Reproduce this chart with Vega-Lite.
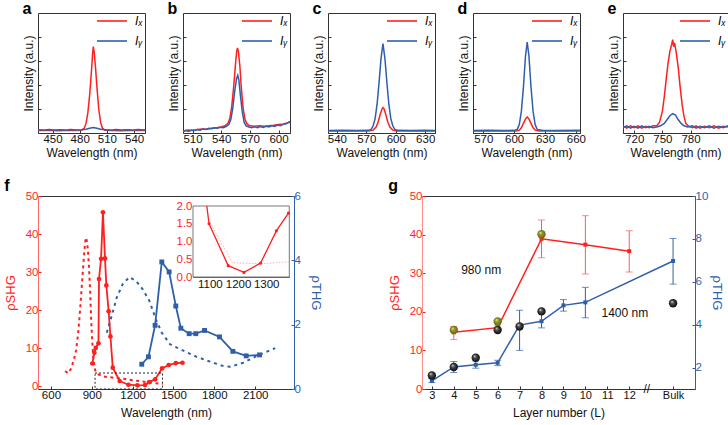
{
"$schema":"https://vega.github.io/schema/vega-lite/v6.json",
"padding":{"left":3,"top":0,"right":2,"bottom":2},
"config":{
 "font":"Liberation Sans",
 "view":{"stroke":"#333","strokeWidth":1},
 "axis":{"grid":false,"labelFontSize":11.5,"titleFontSize":12,"titleFontWeight":"normal","labelColor":"#111","titleColor":"#111","tickColor":"#333","domainColor":"#333","tickSize":-3,"labelPadding":3,"titlePadding":3,"labelOverlap":false},
 "legend":{"orient":"top-right","title":null,"symbolType":"M-3,0H3","symbolSize":100,"symbolStrokeWidth":1.6,"labelFontSize":12,"labelFontStyle":"italic","offset":2,"padding":0,"rowPadding":8,"labelOffset":17},
 "title":{"anchor":"start","frame":"bounds","fontSize":16,"fontWeight":"bold","offset":-4,"color":"#000"}
},
"datasets":{
 "spec":[
  {"p":"a","pol":"x","wl":434,"I":0.1},{"p":"a","pol":"x","wl":445,"I":0.11},{"p":"a","pol":"x","wl":455,"I":0.09},{"p":"a","pol":"x","wl":465,"I":0.1},{"p":"a","pol":"x","wl":475,"I":0.1},{"p":"a","pol":"x","wl":482,"I":0.11},{"p":"a","pol":"x","wl":485,"I":0.2},{"p":"a","pol":"x","wl":487,"I":0.4},{"p":"a","pol":"x","wl":489,"I":0.85},{"p":"a","pol":"x","wl":491,"I":1.6},{"p":"a","pol":"x","wl":493,"I":2.6},{"p":"a","pol":"x","wl":494.2,"I":3.3},{"p":"a","pol":"x","wl":495,"I":3.6},{"p":"a","pol":"x","wl":496,"I":3.35},{"p":"a","pol":"x","wl":497.5,"I":2.7},{"p":"a","pol":"x","wl":499,"I":1.9},{"p":"a","pol":"x","wl":501,"I":1.0},{"p":"a","pol":"x","wl":503,"I":0.45},{"p":"a","pol":"x","wl":505,"I":0.2},{"p":"a","pol":"x","wl":508,"I":0.11},{"p":"a","pol":"x","wl":515,"I":0.1},{"p":"a","pol":"x","wl":525,"I":0.09},{"p":"a","pol":"x","wl":535,"I":0.1},{"p":"a","pol":"x","wl":545,"I":0.1},{"p":"a","pol":"x","wl":552,"I":0.1},
  {"p":"a","pol":"y","wl":434,"I":0.14},{"p":"a","pol":"y","wl":440,"I":0.12},{"p":"a","pol":"y","wl":446,"I":0.15},{"p":"a","pol":"y","wl":452,"I":0.13},{"p":"a","pol":"y","wl":458,"I":0.14},{"p":"a","pol":"y","wl":464,"I":0.12},{"p":"a","pol":"y","wl":470,"I":0.15},{"p":"a","pol":"y","wl":476,"I":0.13},{"p":"a","pol":"y","wl":482,"I":0.14},{"p":"a","pol":"y","wl":487,"I":0.16},{"p":"a","pol":"y","wl":491,"I":0.2},{"p":"a","pol":"y","wl":495,"I":0.23},{"p":"a","pol":"y","wl":499,"I":0.2},{"p":"a","pol":"y","wl":503,"I":0.16},{"p":"a","pol":"y","wl":508,"I":0.14},{"p":"a","pol":"y","wl":514,"I":0.12},{"p":"a","pol":"y","wl":520,"I":0.15},{"p":"a","pol":"y","wl":526,"I":0.13},{"p":"a","pol":"y","wl":532,"I":0.14},{"p":"a","pol":"y","wl":538,"I":0.12},{"p":"a","pol":"y","wl":544,"I":0.15},{"p":"a","pol":"y","wl":552,"I":0.13},
  {"p":"b","pol":"x","wl":500,"I":0.08},{"p":"b","pol":"x","wl":505,"I":0.12},{"p":"b","pol":"x","wl":510,"I":0.1},{"p":"b","pol":"x","wl":515,"I":0.15},{"p":"b","pol":"x","wl":520,"I":0.17},{"p":"b","pol":"x","wl":525,"I":0.16},{"p":"b","pol":"x","wl":530,"I":0.2},{"p":"b","pol":"x","wl":535,"I":0.22},{"p":"b","pol":"x","wl":540,"I":0.25},{"p":"b","pol":"x","wl":544,"I":0.3},{"p":"b","pol":"x","wl":547,"I":0.4},{"p":"b","pol":"x","wl":549,"I":0.6},{"p":"b","pol":"x","wl":551,"I":1.1},{"p":"b","pol":"x","wl":553,"I":1.9},{"p":"b","pol":"x","wl":555,"I":2.9},{"p":"b","pol":"x","wl":556.2,"I":3.4},{"p":"b","pol":"x","wl":557,"I":3.54},{"p":"b","pol":"x","wl":558,"I":3.4},{"p":"b","pol":"x","wl":559.5,"I":2.8},{"p":"b","pol":"x","wl":561,"I":1.9},{"p":"b","pol":"x","wl":563,"I":1.0},{"p":"b","pol":"x","wl":565,"I":0.55},{"p":"b","pol":"x","wl":567,"I":0.38},{"p":"b","pol":"x","wl":570,"I":0.3},{"p":"b","pol":"x","wl":575,"I":0.28},{"p":"b","pol":"x","wl":580,"I":0.3},{"p":"b","pol":"x","wl":585,"I":0.28},{"p":"b","pol":"x","wl":590,"I":0.3},{"p":"b","pol":"x","wl":595,"I":0.32},{"p":"b","pol":"x","wl":600,"I":0.35},{"p":"b","pol":"x","wl":605,"I":0.38},{"p":"b","pol":"x","wl":612,"I":0.45},
  {"p":"b","pol":"y","wl":500,"I":0.05},{"p":"b","pol":"y","wl":503,"I":0.1},{"p":"b","pol":"y","wl":506,"I":0.06},{"p":"b","pol":"y","wl":509,"I":0.12},{"p":"b","pol":"y","wl":512,"I":0.1},{"p":"b","pol":"y","wl":515,"I":0.14},{"p":"b","pol":"y","wl":518,"I":0.12},{"p":"b","pol":"y","wl":521,"I":0.17},{"p":"b","pol":"y","wl":524,"I":0.15},{"p":"b","pol":"y","wl":527,"I":0.2},{"p":"b","pol":"y","wl":530,"I":0.18},{"p":"b","pol":"y","wl":533,"I":0.22},{"p":"b","pol":"y","wl":536,"I":0.2},{"p":"b","pol":"y","wl":539,"I":0.24},{"p":"b","pol":"y","wl":542,"I":0.22},{"p":"b","pol":"y","wl":545,"I":0.27},{"p":"b","pol":"y","wl":548,"I":0.35},{"p":"b","pol":"y","wl":550,"I":0.55},{"p":"b","pol":"y","wl":552,"I":1.0},{"p":"b","pol":"y","wl":554,"I":1.7},{"p":"b","pol":"y","wl":556,"I":2.25},{"p":"b","pol":"y","wl":557.3,"I":2.4},{"p":"b","pol":"y","wl":558.5,"I":2.2},{"p":"b","pol":"y","wl":560,"I":1.6},{"p":"b","pol":"y","wl":562,"I":0.9},{"p":"b","pol":"y","wl":564,"I":0.45},{"p":"b","pol":"y","wl":566,"I":0.3},{"p":"b","pol":"y","wl":569,"I":0.25},{"p":"b","pol":"y","wl":572,"I":0.22},{"p":"b","pol":"y","wl":575,"I":0.26},{"p":"b","pol":"y","wl":578,"I":0.22},{"p":"b","pol":"y","wl":581,"I":0.27},{"p":"b","pol":"y","wl":584,"I":0.23},{"p":"b","pol":"y","wl":587,"I":0.28},{"p":"b","pol":"y","wl":590,"I":0.25},{"p":"b","pol":"y","wl":593,"I":0.3},{"p":"b","pol":"y","wl":596,"I":0.27},{"p":"b","pol":"y","wl":599,"I":0.33},{"p":"b","pol":"y","wl":602,"I":0.3},{"p":"b","pol":"y","wl":605,"I":0.36},{"p":"b","pol":"y","wl":608,"I":0.38},{"p":"b","pol":"y","wl":612,"I":0.48},
  {"p":"c","pol":"x","wl":531,"I":0.08},{"p":"c","pol":"x","wl":545,"I":0.08},{"p":"c","pol":"x","wl":560,"I":0.09},{"p":"c","pol":"x","wl":572,"I":0.08},{"p":"c","pol":"x","wl":577,"I":0.12},{"p":"c","pol":"x","wl":580,"I":0.25},{"p":"c","pol":"x","wl":582,"I":0.45},{"p":"c","pol":"x","wl":584,"I":0.75},{"p":"c","pol":"x","wl":586,"I":1.0},{"p":"c","pol":"x","wl":587,"I":1.06},{"p":"c","pol":"x","wl":588.2,"I":1.0},{"p":"c","pol":"x","wl":590,"I":0.75},{"p":"c","pol":"x","wl":592,"I":0.45},{"p":"c","pol":"x","wl":594,"I":0.25},{"p":"c","pol":"x","wl":597,"I":0.12},{"p":"c","pol":"x","wl":602,"I":0.08},{"p":"c","pol":"x","wl":615,"I":0.08},{"p":"c","pol":"x","wl":630,"I":0.09},{"p":"c","pol":"x","wl":640,"I":0.08},
  {"p":"c","pol":"y","wl":531,"I":0.1},{"p":"c","pol":"y","wl":545,"I":0.11},{"p":"c","pol":"y","wl":560,"I":0.1},{"p":"c","pol":"y","wl":572,"I":0.11},{"p":"c","pol":"y","wl":575,"I":0.15},{"p":"c","pol":"y","wl":577,"I":0.3},{"p":"c","pol":"y","wl":579,"I":0.6},{"p":"c","pol":"y","wl":581,"I":1.2},{"p":"c","pol":"y","wl":583,"I":2.1},{"p":"c","pol":"y","wl":585,"I":3.1},{"p":"c","pol":"y","wl":587,"I":3.72},{"p":"c","pol":"y","wl":589,"I":3.1},{"p":"c","pol":"y","wl":591,"I":2.1},{"p":"c","pol":"y","wl":593,"I":1.2},{"p":"c","pol":"y","wl":595,"I":0.6},{"p":"c","pol":"y","wl":597,"I":0.3},{"p":"c","pol":"y","wl":599,"I":0.15},{"p":"c","pol":"y","wl":603,"I":0.11},{"p":"c","pol":"y","wl":615,"I":0.1},{"p":"c","pol":"y","wl":630,"I":0.11},{"p":"c","pol":"y","wl":640,"I":0.1},
  {"p":"d","pol":"x","wl":560,"I":0.08},{"p":"d","pol":"x","wl":575,"I":0.09},{"p":"d","pol":"x","wl":590,"I":0.08},{"p":"d","pol":"x","wl":602,"I":0.08},{"p":"d","pol":"x","wl":605,"I":0.12},{"p":"d","pol":"x","wl":607,"I":0.22},{"p":"d","pol":"x","wl":609,"I":0.4},{"p":"d","pol":"x","wl":611,"I":0.58},{"p":"d","pol":"x","wl":612.7,"I":0.67},{"p":"d","pol":"x","wl":614.4,"I":0.58},{"p":"d","pol":"x","wl":616.4,"I":0.4},{"p":"d","pol":"x","wl":618.4,"I":0.22},{"p":"d","pol":"x","wl":620.4,"I":0.12},{"p":"d","pol":"x","wl":624,"I":0.08},{"p":"d","pol":"x","wl":640,"I":0.09},{"p":"d","pol":"x","wl":664,"I":0.08},
  {"p":"d","pol":"y","wl":560,"I":0.1},{"p":"d","pol":"y","wl":575,"I":0.11},{"p":"d","pol":"y","wl":590,"I":0.1},{"p":"d","pol":"y","wl":600,"I":0.11},{"p":"d","pol":"y","wl":603,"I":0.15},{"p":"d","pol":"y","wl":605,"I":0.35},{"p":"d","pol":"y","wl":607,"I":0.9},{"p":"d","pol":"y","wl":609,"I":1.9},{"p":"d","pol":"y","wl":611,"I":3.2},{"p":"d","pol":"y","wl":612.7,"I":3.79},{"p":"d","pol":"y","wl":614.4,"I":3.2},{"p":"d","pol":"y","wl":616.4,"I":1.9},{"p":"d","pol":"y","wl":618.4,"I":0.9},{"p":"d","pol":"y","wl":620.4,"I":0.35},{"p":"d","pol":"y","wl":622.4,"I":0.15},{"p":"d","pol":"y","wl":627,"I":0.11},{"p":"d","pol":"y","wl":640,"I":0.1},{"p":"d","pol":"y","wl":664,"I":0.11},
  {"p":"e","pol":"x","wl":708,"I":0.3},{"p":"e","pol":"x","wl":712,"I":0.2},{"p":"e","pol":"x","wl":716,"I":0.3},{"p":"e","pol":"x","wl":720,"I":0.22},{"p":"e","pol":"x","wl":724,"I":0.3},{"p":"e","pol":"x","wl":728,"I":0.2},{"p":"e","pol":"x","wl":732,"I":0.28},{"p":"e","pol":"x","wl":736,"I":0.22},{"p":"e","pol":"x","wl":740,"I":0.3},{"p":"e","pol":"x","wl":744,"I":0.3},{"p":"e","pol":"x","wl":747,"I":0.45},{"p":"e","pol":"x","wl":750,"I":0.9},{"p":"e","pol":"x","wl":752,"I":1.5},{"p":"e","pol":"x","wl":754,"I":2.2},{"p":"e","pol":"x","wl":756,"I":2.9},{"p":"e","pol":"x","wl":758,"I":3.4},{"p":"e","pol":"x","wl":760,"I":3.7},{"p":"e","pol":"x","wl":761,"I":3.89},{"p":"e","pol":"x","wl":762,"I":3.6},{"p":"e","pol":"x","wl":763,"I":3.75},{"p":"e","pol":"x","wl":765,"I":3.3},{"p":"e","pol":"x","wl":767,"I":2.7},{"p":"e","pol":"x","wl":769,"I":1.9},{"p":"e","pol":"x","wl":771,"I":1.2},{"p":"e","pol":"x","wl":773,"I":0.7},{"p":"e","pol":"x","wl":775,"I":0.4},{"p":"e","pol":"x","wl":778,"I":0.28},{"p":"e","pol":"x","wl":782,"I":0.22},{"p":"e","pol":"x","wl":786,"I":0.3},{"p":"e","pol":"x","wl":790,"I":0.2},{"p":"e","pol":"x","wl":795,"I":0.28},{"p":"e","pol":"x","wl":800,"I":0.22},{"p":"e","pol":"x","wl":805,"I":0.3},{"p":"e","pol":"x","wl":810,"I":0.2},{"p":"e","pol":"x","wl":815,"I":0.28},{"p":"e","pol":"x","wl":820,"I":0.25},
  {"p":"e","pol":"y","wl":708,"I":0.22},{"p":"e","pol":"y","wl":712,"I":0.3},{"p":"e","pol":"y","wl":716,"I":0.2},{"p":"e","pol":"y","wl":720,"I":0.28},{"p":"e","pol":"y","wl":724,"I":0.2},{"p":"e","pol":"y","wl":728,"I":0.3},{"p":"e","pol":"y","wl":732,"I":0.22},{"p":"e","pol":"y","wl":736,"I":0.28},{"p":"e","pol":"y","wl":740,"I":0.22},{"p":"e","pol":"y","wl":744,"I":0.25},{"p":"e","pol":"y","wl":748,"I":0.3},{"p":"e","pol":"y","wl":752,"I":0.4},{"p":"e","pol":"y","wl":755,"I":0.55},{"p":"e","pol":"y","wl":758,"I":0.72},{"p":"e","pol":"y","wl":761,"I":0.81},{"p":"e","pol":"y","wl":764,"I":0.75},{"p":"e","pol":"y","wl":767,"I":0.55},{"p":"e","pol":"y","wl":770,"I":0.4},{"p":"e","pol":"y","wl":773,"I":0.3},{"p":"e","pol":"y","wl":777,"I":0.25},{"p":"e","pol":"y","wl":782,"I":0.3},{"p":"e","pol":"y","wl":786,"I":0.2},{"p":"e","pol":"y","wl":790,"I":0.28},{"p":"e","pol":"y","wl":795,"I":0.22},{"p":"e","pol":"y","wl":800,"I":0.3},{"p":"e","pol":"y","wl":805,"I":0.2},{"p":"e","pol":"y","wl":810,"I":0.28},{"p":"e","pol":"y","wl":815,"I":0.22},{"p":"e","pol":"y","wl":820,"I":0.3}
 ],
 "fshg":[{"wl":904,"v":6.0},{"wl":919,"v":8.8},{"wl":929,"v":10.1},{"wl":949,"v":11.3},{"wl":953,"v":28.2},{"wl":968,"v":33.5},{"wl":982,"v":45.7},{"wl":997,"v":33.6},{"wl":1007,"v":26.5},{"wl":1024,"v":19.7},{"wl":1037,"v":13.1},{"wl":1054,"v":4.9},{"wl":1105,"v":1.4},{"wl":1169,"v":0.42},{"wl":1235,"v":0.26},{"wl":1291,"v":0.34},{"wl":1321,"v":1.1},{"wl":1365,"v":1.85},{"wl":1416,"v":4.7},{"wl":1465,"v":5.6},{"wl":1517,"v":6.1},{"wl":1566,"v":6.2}],
 "fshgT":[{"wl":705,"v":4.0},{"wl":725,"v":3.4},{"wl":745,"v":4.5},{"wl":765,"v":6.5},{"wl":785,"v":9.5},{"wl":800,"v":14},{"wl":815,"v":20.5},{"wl":828,"v":27},{"wl":840,"v":33},{"wl":850,"v":37.5},{"wl":857,"v":39.1},{"wl":865,"v":38},{"wl":872,"v":35.5},{"wl":880,"v":31},{"wl":888,"v":25},{"wl":895,"v":18},{"wl":903,"v":12},{"wl":912,"v":7},{"wl":925,"v":4.2},{"wl":945,"v":3.2},{"wl":985,"v":2.6},{"wl":1050,"v":2.3},{"wl":1100,"v":2.1},{"wl":1150,"v":1.9},{"wl":1200,"v":1.6},{"wl":1250,"v":1.4},{"wl":1300,"v":1.1},{"wl":1350,"v":0.9},{"wl":1420,"v":0.6}],
 "fbox":[{"wl":924,"wl2":1419,"v":-0.7,"v2":3.5}],
 "fthg":[{"wl":1267,"v":0.77},{"wl":1316,"v":1.0},{"wl":1365,"v":1.98},{"wl":1414,"v":3.95},{"wl":1468,"v":3.64},{"wl":1517,"v":2.58},{"wl":1554,"v":1.89},{"wl":1615,"v":1.72},{"wl":1664,"v":1.72},{"wl":1728,"v":1.82},{"wl":1838,"v":1.62},{"wl":1936,"v":1.17},{"wl":2034,"v":1.03},{"wl":2132,"v":1.06}],
 "fthgT":[{"wl":1010,"v":1.75},{"wl":1046,"v":2.27},{"wl":1083,"v":2.84},{"wl":1127,"v":3.26},{"wl":1176,"v":3.48},{"wl":1225,"v":3.36},{"wl":1274,"v":3.1},{"wl":1323,"v":2.74},{"wl":1372,"v":2.15},{"wl":1414,"v":1.75},{"wl":1475,"v":1.39},{"wl":1573,"v":1.19},{"wl":1671,"v":1.0},{"wl":1769,"v":0.85},{"wl":1868,"v":0.71},{"wl":1916,"v":0.69},{"wl":2015,"v":0.82},{"wl":2113,"v":1.03},{"wl":2247,"v":1.27}],
 "inframe":[{"wl":1040,"wl2":1382,"v":0,"v2":2}],
 "inset":[{"wl":1089,"v":2.0,"m":0},{"wl":1097,"v":1.5,"m":1},{"wl":1165,"v":0.32,"m":1},{"wl":1221,"v":0.13,"m":1},{"wl":1280,"v":0.39,"m":1},{"wl":1336,"v":1.3,"m":1},{"wl":1379,"v":1.8,"m":1}],
 "insetT":[{"wl":1100,"v":1.55},{"wl":1180,"v":0.4},{"wl":1250,"v":0.38},{"wl":1300,"v":0.38},{"wl":1382,"v":0.43}],
 "gshg":[{"L":4,"v":14.7,"lo":12.8,"hi":16.2},{"L":6,"v":15.9,"lo":15.4,"hi":16.4},{"L":8,"v":38.9,"lo":34.0,"hi":43.8},{"L":10,"v":37.4,"lo":29.8,"hi":44.9},{"L":12,"v":35.7,"lo":30.3,"hi":41.0}],
 "gthg":[{"L":3,"v":1.38,"lo":1.3,"hi":1.48},{"L":4,"v":2.03,"lo":1.77,"hi":2.28},{"L":5,"v":2.13,"lo":1.97,"hi":2.31},{"L":6,"v":2.22,"lo":2.09,"hi":2.34},{"L":7,"v":3.98,"lo":2.8,"hi":4.67},{"L":8,"v":4.16,"lo":3.85,"hi":4.52},{"L":9,"v":4.9,"lo":4.63,"hi":5.17},{"L":10,"v":5.04,"lo":4.32,"hi":5.74},{"L":14,"v":6.97,"lo":5.89,"hi":8.02}],
 "gblack":[{"L":3,"v":3.5},{"L":4,"v":5.7},{"L":5,"v":8.1},{"L":6,"v":15.3},{"L":7,"v":16.2},{"L":8,"v":20.1},{"L":14,"v":22.2}],
 "golive":[{"L":4,"v":15.3},{"L":6,"v":17.5},{"L":8,"v":40.1}],
 "gtext":[{"L":5.25,"v":30.8,"t":"980 nm"},{"L":11.8,"v":19.8,"t":"1400 nm"},{"L":12.8,"v":0,"t":"//"}]
},
"vconcat":[
 {"hconcat":[
  {"width":107,"height":120,"title":{"text":"a"},"data":{"name":"spec"},"transform":[{"filter":"datum.p==='a'"}],"mark":{"type":"line","strokeWidth":1.5,"clip":true},
   "encoding":{"x":{"field":"wl","type":"quantitative","scale":{"domain":[434,552],"nice":false,"zero":false},"axis":{"values":[450,480,510,540],"title":"Wavelength (nm)"}},
    "y":{"field":"I","type":"quantitative","scale":{"domain":[0,5],"nice":false},"axis":{"values":[1,2,3,4],"labels":false,"domain":false,"labelPadding":0,"titlePadding":2,"title":"Intensity (a.u.)"}},
    "color":{"field":"pol","type":"nominal","scale":{"domain":["x","y"],"range":["#ff1f1f","#2f5fab"]},"legend":{"labelExpr":"datum.value=='x'?'Iₓ':'Iᵧ'"}}}},
  {"width":107,"height":120,"title":{"text":"b"},"data":{"name":"spec"},"transform":[{"filter":"datum.p==='b'"}],"mark":{"type":"line","strokeWidth":1.5,"clip":true},
   "encoding":{"x":{"field":"wl","type":"quantitative","scale":{"domain":[500,612],"nice":false,"zero":false},"axis":{"values":[510,540,570,600],"title":"Wavelength (nm)"}},
    "y":{"field":"I","type":"quantitative","scale":{"domain":[0,5],"nice":false},"axis":{"values":[1,2,3,4],"labels":false,"domain":false,"labelPadding":0,"titlePadding":2,"title":"Intensity (a.u.)"}},
    "color":{"field":"pol","type":"nominal","scale":{"domain":["x","y"],"range":["#ff1f1f","#2f5fab"]},"legend":{"labelExpr":"datum.value=='x'?'Iₓ':'Iᵧ'"}}}},
  {"width":107,"height":120,"title":{"text":"c"},"data":{"name":"spec"},"transform":[{"filter":"datum.p==='c'"}],"mark":{"type":"line","strokeWidth":1.5,"clip":true},
   "encoding":{"x":{"field":"wl","type":"quantitative","scale":{"domain":[531,640],"nice":false,"zero":false},"axis":{"values":[540,570,600,630],"title":"Wavelength (nm)"}},
    "y":{"field":"I","type":"quantitative","scale":{"domain":[0,5],"nice":false},"axis":{"values":[1,2,3,4],"labels":false,"domain":false,"labelPadding":0,"titlePadding":2,"title":"Intensity (a.u.)"}},
    "color":{"field":"pol","type":"nominal","scale":{"domain":["x","y"],"range":["#ff1f1f","#2f5fab"]},"legend":{"labelExpr":"datum.value=='x'?'Iₓ':'Iᵧ'"}}}},
  {"width":107,"height":120,"title":{"text":"d"},"data":{"name":"spec"},"transform":[{"filter":"datum.p==='d'"}],"mark":{"type":"line","strokeWidth":1.5,"clip":true},
   "encoding":{"x":{"field":"wl","type":"quantitative","scale":{"domain":[560,664],"nice":false,"zero":false},"axis":{"values":[570,600,630,660],"title":"Wavelength (nm)"}},
    "y":{"field":"I","type":"quantitative","scale":{"domain":[0,5],"nice":false},"axis":{"values":[1,2,3,4],"labels":false,"domain":false,"labelPadding":0,"titlePadding":2,"title":"Intensity (a.u.)"}},
    "color":{"field":"pol","type":"nominal","scale":{"domain":["x","y"],"range":["#ff1f1f","#2f5fab"]},"legend":{"labelExpr":"datum.value=='x'?'Iₓ':'Iᵧ'"}}}},
  {"width":105,"height":120,"title":{"text":"e"},"data":{"name":"spec"},"transform":[{"filter":"datum.p==='e'"}],"mark":{"type":"line","strokeWidth":1.5,"clip":true},
   "encoding":{"x":{"field":"wl","type":"quantitative","scale":{"domain":[708,820],"nice":false,"zero":false},"axis":{"values":[720,750,780],"title":"Wavelength (nm)"}},
    "y":{"field":"I","type":"quantitative","scale":{"domain":[0,5],"nice":false},"axis":{"values":[1,2,3,4],"labels":false,"domain":false,"labelPadding":0,"titlePadding":2,"title":"Intensity (a.u.)"}},
    "color":{"field":"pol","type":"nominal","scale":{"domain":["x","y"],"range":["#ff1f1f","#2f5fab"]},"legend":{"labelExpr":"datum.value=='x'?'Iₓ':'Iᵧ'"}}}}
 ],"spacing":21,"resolve":{"scale":{"color":"independent"},"legend":{"color":"independent"}}},
 {"hconcat":[
  {"width":256,"height":193,"title":{"text":"f"},
   "layer":[
    {"layer":[
      {"data":{"name":"fshgT"},"mark":{"type":"line","color":"#ff1f1f","strokeDash":[3,3.5],"strokeWidth":2}},
      {"data":{"name":"fshg"},"mark":{"type":"line","color":"#ff1f1f","strokeWidth":1.8,"point":{"filled":true,"size":22,"color":"#ff1f1f"}}},
      {"data":{"name":"fbox"},"mark":{"type":"rect","fill":null,"stroke":"#222","strokeDash":[2,2],"strokeWidth":1},"encoding":{"x2":{"field":"wl2"},"y2":{"field":"v2"}}}
     ],
     "encoding":{"x":{"field":"wl","type":"quantitative","scale":{"domain":[505,2385],"nice":false,"zero":false},"axis":{"orient":"bottom","values":[600,900,1200,1500,1800,2100],"format":"d","title":"Wavelength (nm)","titlePadding":7}},
      "y":{"field":"v","type":"quantitative","scale":{"domain":[-0.7,50],"nice":false,"zero":false},"axis":{"orient":"left","values":[0,10,20,30,40,50],"title":"ρSHG","titlePadding":8,"titleColor":"#ff1f1f","labelColor":"#ff1f1f","tickColor":"#ff1f1f","domainColor":"#ff6b6b","titleFontSize":13}}}},
    {"layer":[
      {"data":{"name":"fthgT"},"mark":{"type":"line","color":"#2f5fab","strokeDash":[3,4],"strokeWidth":2}},
      {"data":{"name":"fthg"},"mark":{"type":"line","color":"#2f5fab","strokeWidth":1.8,"point":{"filled":true,"size":24,"shape":"square","color":"#2f5fab"}}}
     ],
     "encoding":{"x":{"field":"wl","type":"quantitative","scale":{"domain":[505,2385],"nice":false,"zero":false},"axis":null},
      "y":{"field":"v","type":"quantitative","scale":{"domain":[0,6],"nice":false},"axis":{"orient":"right","values":[0,2,4,6],"title":"ρTHG","titlePadding":8,"titleColor":"#2f5fab","labelColor":"#2f5fab","tickColor":"#2f5fab","domainColor":"#2f5fab","titleFontSize":13}}}},
    {"layer":[
      {"data":{"name":"inframe"},"mark":{"type":"rect","fill":"#fff","stroke":"#777","strokeWidth":1},"encoding":{"x2":{"field":"wl2"},"y2":{"field":"v2"}}},
      {"data":{"name":"insetT"},"mark":{"type":"line","color":"#ffb0b0","strokeDash":[1.5,1.5],"strokeWidth":1}},
      {"data":{"name":"inset"},"mark":{"type":"line","color":"#ff1f1f","strokeWidth":1.3}},
      {"data":{"name":"inset"},"transform":[{"filter":"datum.m==1"}],"mark":{"type":"point","filled":true,"size":10,"color":"#ff1f1f","opacity":1}}
     ],
     "encoding":{"x":{"field":"wl","type":"quantitative","scale":{"domain":[1040,1382],"nice":false,"zero":false,"range":[155,251.3]},"axis":{"orient":"bottom","offset":-112,"values":[1100,1200,1300],"format":"d","title":null,"tickSize":-2,"domainColor":"#555"}},
      "y":{"field":"v","type":"quantitative","scale":{"domain":[0,2],"nice":false,"range":[81,10]},"axis":{"orient":"left","offset":-155,"values":[0,0.5,1,1.5,2],"format":".1f","title":null,"labelColor":"#ff1f1f","tickColor":"#ff1f1f","domainColor":"#ff1f1f","tickSize":-2}}}}
   ],
   "resolve":{"scale":{"x":"independent","y":"independent"}}},
  {"width":273,"height":193,"title":{"text":"g"},
   "encoding":{"x":{"field":"L","type":"quantitative","scale":{"domain":[2.55,15],"nice":false,"zero":false},"axis":{"orient":"bottom","values":[3,4,5,6,7,8,9,10,11,12,14],"labelExpr":"datum.value==14?'Bulk':''+datum.value","labelOverlap":false,"labelBound":false,"labelFlush":false,"labelFontSize":11,"labelSeparation":0,"title":"Layer number (L)","titlePadding":7}}},
   "layer":[
    {"layer":[
      {"data":{"name":"gshg"},"mark":{"type":"rule","color":"#ff5a5a","strokeWidth":1},"encoding":{"y":{"field":"lo"},"y2":{"field":"hi"}}},
      {"data":{"name":"gshg"},"mark":{"type":"tick","orient":"horizontal","size":7,"thickness":1,"color":"#ff5a5a"},"encoding":{"y":{"field":"lo"}}},
      {"data":{"name":"gshg"},"mark":{"type":"tick","orient":"horizontal","size":7,"thickness":1,"color":"#ff5a5a"},"encoding":{"y":{"field":"hi"}}},
      {"data":{"name":"gshg"},"mark":{"type":"line","color":"#ff1f1f","strokeWidth":1.5,"point":{"filled":true,"size":16,"shape":"square","color":"#ff1f1f"}}}
     ],
     "encoding":{
      "y":{"field":"v","type":"quantitative","scale":{"domain":[0,50],"nice":false},"axis":{"orient":"left","values":[0,10,20,30,40,50],"title":"ρSHG","titlePadding":8,"titleColor":"#ff1f1f","labelColor":"#ff1f1f","tickColor":"#ff1f1f","domainColor":"#ff8a8a","titleFontSize":13}}}},
    {"layer":[
      {"data":{"name":"gthg"},"mark":{"type":"rule","color":"#2f5fab","strokeWidth":1},"encoding":{"y":{"field":"lo"},"y2":{"field":"hi"}}},
      {"data":{"name":"gthg"},"mark":{"type":"tick","orient":"horizontal","size":7,"thickness":1,"color":"#2f5fab"},"encoding":{"y":{"field":"lo"}}},
      {"data":{"name":"gthg"},"mark":{"type":"tick","orient":"horizontal","size":7,"thickness":1,"color":"#2f5fab"},"encoding":{"y":{"field":"hi"}}},
      {"data":{"name":"gthg"},"mark":{"type":"line","color":"#2f5fab","strokeWidth":1.5,"point":{"filled":true,"size":16,"shape":"square","color":"#2f5fab"}}}
     ],
     "encoding":{
      "y":{"field":"v","type":"quantitative","scale":{"domain":[1,10],"nice":false,"zero":false},"axis":{"orient":"right","values":[2,4,6,8,10],"title":"ρTHG","titlePadding":2,"titleColor":"#2f5fab","labelColor":"#2f5fab","tickColor":"#2f5fab","domainColor":"#2f5fab","titleFontSize":13}}}},
    {"layer":[
      {"data":{"name":"gblack"},"mark":{"type":"point","filled":true,"size":70,"shape":"circle","opacity":1,"color":{"gradient":"radial","x1":0.35,"y1":0.3,"r1":0,"x2":0.5,"y2":0.5,"r2":0.55,"stops":[{"offset":0,"color":"#ffffff"},{"offset":0.3,"color":"#555555"},{"offset":1,"color":"#000000"}]}}},
      {"data":{"name":"golive"},"mark":{"type":"point","filled":true,"size":70,"shape":"circle","opacity":1,"color":{"gradient":"radial","x1":0.35,"y1":0.3,"r1":0,"x2":0.5,"y2":0.5,"r2":0.55,"stops":[{"offset":0,"color":"#f4f4b0"},{"offset":0.35,"color":"#9a9a25"},{"offset":1,"color":"#5e5e10"}]}}},
      {"data":{"name":"gtext"},"mark":{"type":"text","fontSize":12,"color":"#111"},"encoding":{"text":{"field":"t"}}}
     ],
     "encoding":{
      "y":{"field":"v","type":"quantitative","scale":{"domain":[0,50],"nice":false},"axis":null}}}
   ],
   "resolve":{"scale":{"y":"independent"}}}
 ],"spacing":65}
],
"spacing":18
}
